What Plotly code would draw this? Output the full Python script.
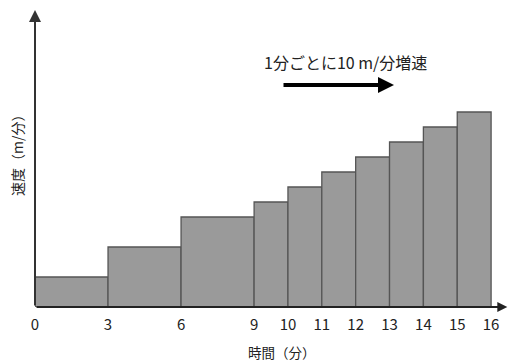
import plotly.graph_objects as go

# Data
interval_start = [0, 3, 6, 9, 10, 11, 12, 13, 14, 15]
interval_end = [3, 6, 9, 10, 11, 12, 13, 14, 15, 16]
speeds = [20, 40, 60, 70, 80, 90, 100, 110, 120, 130]  # m/分
tick_minutes = [0, 3, 6, 9, 10, 11, 12, 13, 14, 15, 16]
tick_labels = ["0", "3", "6", "9", "10", "11", "12", "13", "14", "15", "16"]

# display scale: first 9 minutes are drawn compressed
COMP = 0.719
def disp(t):
    return t * COMP if t <= 9 else 9 * COMP + (t - 9)

mids = [(disp(a) + disp(b)) / 2 for a, b in zip(interval_start, interval_end)]
widths = [disp(b) - disp(a) for a, b in zip(interval_start, interval_end)]

FONT = "Noto Sans CJK JP"
TXT = "#222222"
XMAX = 13.97
YMAX = 198

fig = go.Figure()
fig.add_trace(go.Bar(
    x=mids, y=speeds, width=widths,
    marker=dict(color="#9a9a9a", line=dict(color="#555555", width=1.3)),
    hoverinfo="skip",
))

fig.update_layout(
    width=508, height=364,
    margin=dict(l=35, r=0, t=10, b=57),
    paper_bgcolor="white", plot_bgcolor="white",
    showlegend=False,
    font=dict(family=FONT, size=14, color=TXT),
    xaxis=dict(range=[0, XMAX], tickvals=[disp(t) for t in tick_minutes], ticktext=tick_labels,
               showgrid=False, zeroline=False, showline=False,
               ticks="outside", ticklen=4, tickcolor="rgba(0,0,0,0)",
               tickfont=dict(family=FONT, size=15, color=TXT)),
    yaxis=dict(range=[0, YMAX], showticklabels=False, showgrid=False, zeroline=False,
               showline=False, ticks=""),
)

# axes with arrows
fig.add_annotation(x=0, y=YMAX, ax=0, ay=0, xref="x", yref="y", axref="x", ayref="y",
                   showarrow=True, arrowhead=2, arrowsize=1.2, arrowwidth=2, arrowcolor="#333",
                   text="")
fig.add_annotation(x=XMAX - 0.02, y=0, ax=0, ay=0, xref="x", yref="y", axref="x", ayref="y",
                   showarrow=True, arrowhead=2, arrowsize=1.0, arrowwidth=2, arrowcolor="#222",
                   text="")

# annotation text and bold arrow
fig.add_annotation(x=(345 - 35) / 473, y=(307 - 62) / 297, xref="paper", yref="paper",
                   xanchor="center", yanchor="middle",
                   text="1分ごとに10 m/分増速", showarrow=False,
                   font=dict(family=FONT, size=16, color=TXT))
fig.add_annotation(x=(394 - 35) / 473, y=(307 - 85) / 297, ax=-112, ay=0,
                   xref="paper", yref="paper", axref="pixel", ayref="pixel",
                   showarrow=True, arrowhead=2, arrowsize=0.8, arrowwidth=4, arrowcolor="#000", text="")

# axis titles
fig.add_annotation(x=(17 - 35) / 473, y=(307 - 152) / 297, xref="paper", yref="paper",
                   xanchor="center", yanchor="middle",
                   text="速度（m/分）", textangle=-90, showarrow=False,
                   font=dict(family=FONT, size=14, color=TXT))
fig.add_annotation(x=(282 - 35) / 473, y=(307 - 352) / 297, xref="paper", yref="paper",
                   xanchor="center", yanchor="middle",
                   text="時間（分）", showarrow=False,
                   font=dict(family=FONT, size=13.5, color=TXT))

fig.write_html("out.html", config={"displayModeBar": False},
               post_script="document.body.style.margin='0';")
